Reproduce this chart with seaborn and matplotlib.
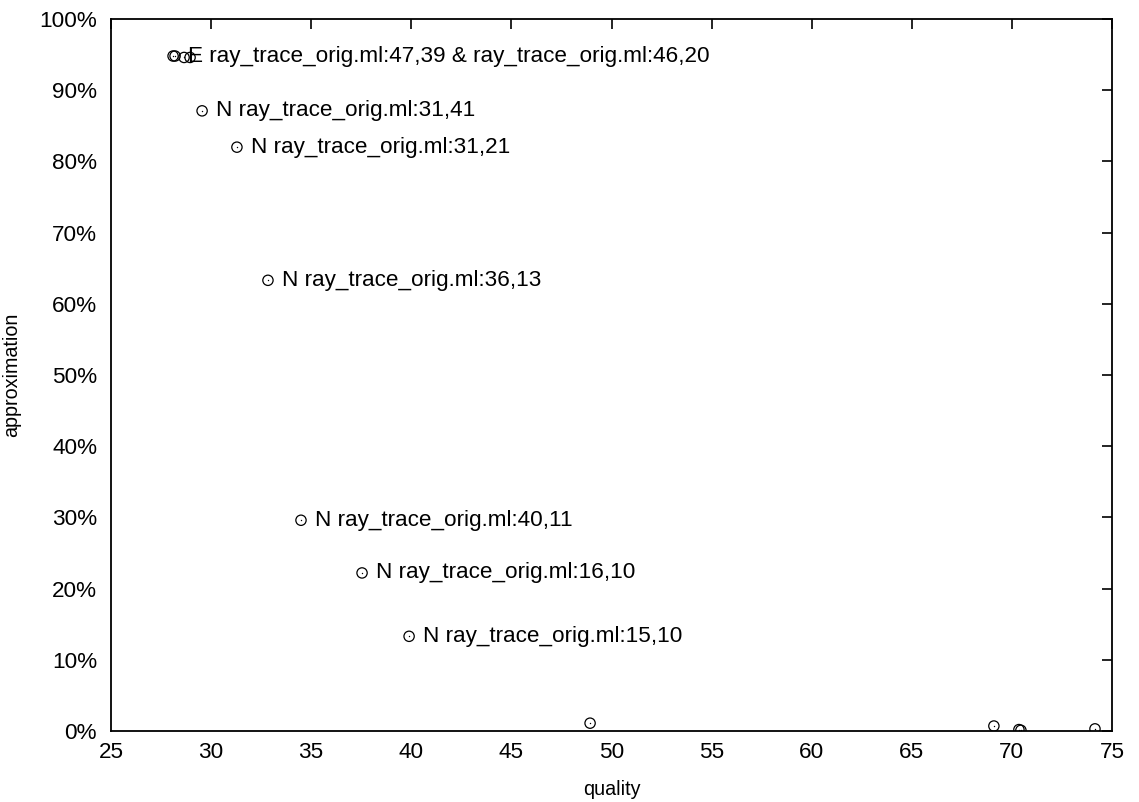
import matplotlib
matplotlib.use("Agg")
import matplotlib.pyplot as plt
import seaborn as sns
import pandas as pd
from matplotlib.ticker import FuncFormatter, MultipleLocator

# data
quality = [28.10, 28.20, 28.65, 28.95, 29.55, 31.29, 32.84, 34.49, 37.54, 39.89,
           48.93, 69.10, 70.35, 70.45, 74.15]
approximation = [94.8, 94.8, 94.6, 94.6, 87.1, 82.0, 63.3, 29.6, 22.2, 13.3,
                 1.1, 0.7, 0.2, 0.1, 0.3]

label_x = [28.15, 29.55, 31.29, 32.84, 34.49, 37.54, 39.89]
label_y = [94.8, 87.1, 82.0, 63.3, 29.6, 22.2, 13.3]
label_text = [
    "E ray_trace_orig.ml:47,39 & ray_trace_orig.ml:46,20",
    "N ray_trace_orig.ml:31,41",
    "N ray_trace_orig.ml:31,21",
    "N ray_trace_orig.ml:36,13",
    "N ray_trace_orig.ml:40,11",
    "N ray_trace_orig.ml:16,10",
    "N ray_trace_orig.ml:15,10",
]

sns.set_theme(style="white")
plt.rcParams['font.family'] = ['Liberation Sans', 'DejaVu Sans']

df = pd.DataFrame({"quality": quality, "approximation": approximation})

fig = plt.figure(figsize=(11.39, 8.02), dpi=100)
ax = fig.add_axes([111 / 1139, 1 - 731 / 802, (1112 - 111) / 1139, (731 - 19) / 802])

sns.scatterplot(data=df, x="quality", y="approximation", ax=ax, marker="o",
                s=55, facecolors="none", edgecolor="black", linewidth=0.9, zorder=3)
sns.scatterplot(data=df, x="quality", y="approximation", ax=ax, marker=".",
                s=4, color="black", edgecolor="black", linewidth=0, zorder=3)

fs = 16.2
for x, y, t in zip(label_x, label_y, label_text):
    ax.annotate(t, xy=(x, y), xytext=(10, 0), textcoords="offset points",
                ha="left", va="center", fontsize=fs, color="black")

ax.set_xlim(25, 75)
ax.set_ylim(0, 100)
ax.xaxis.set_major_locator(MultipleLocator(5))
ax.yaxis.set_major_locator(MultipleLocator(10))
ax.yaxis.set_major_formatter(FuncFormatter(lambda v, p: f"{int(round(v))}%"))

ax.tick_params(direction="in", top=True, right=True, length=7.2, width=1.2,
               labelsize=fs, colors="black")
ax.tick_params(axis="y", pad=10)
ax.tick_params(axis="x", pad=8)
for sp in ax.spines.values():
    sp.set_visible(True)
    sp.set_color("black")
    sp.set_linewidth(1.3)

ax.set_xlabel("quality", fontsize=14.2, color="black", labelpad=12)
ax.set_ylabel("approximation", fontsize=14.2, color="black", labelpad=13)
ax.grid(False)

fig.savefig("out.png", dpi=100)
